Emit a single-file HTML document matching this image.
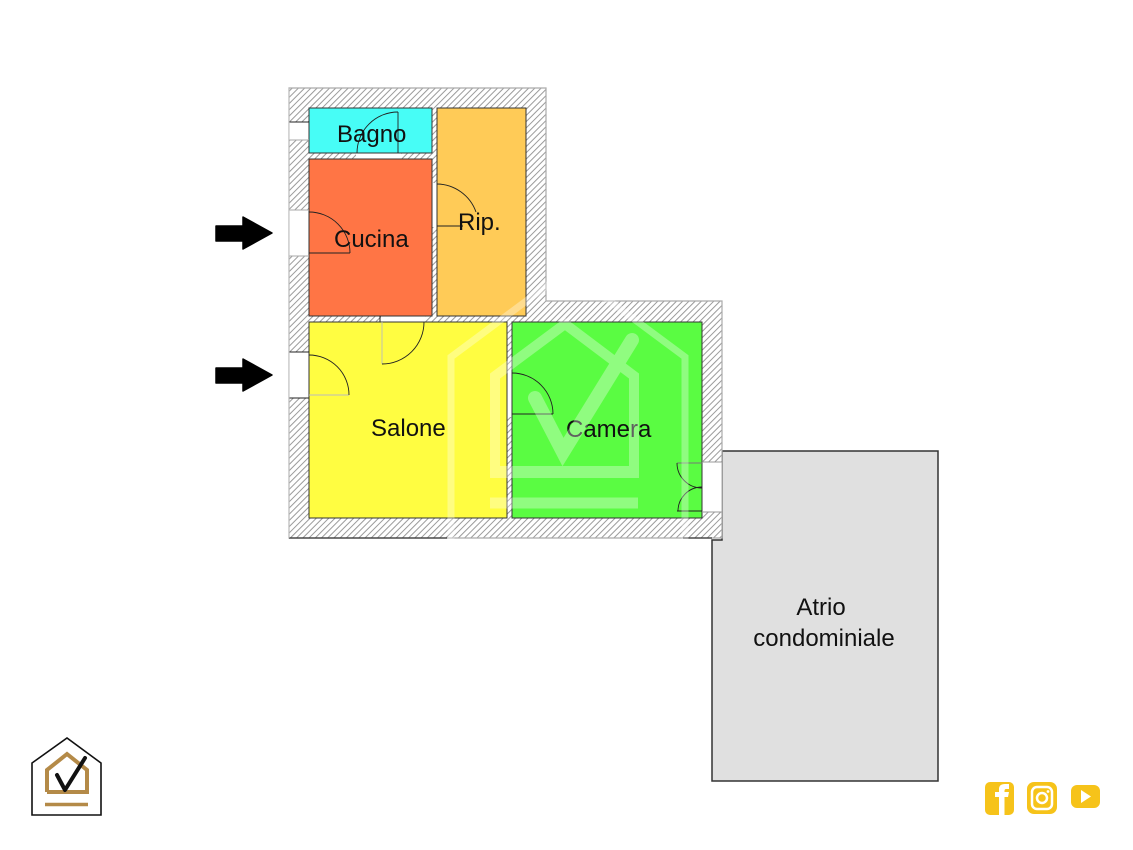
<!DOCTYPE html>
<html><head><meta charset="utf-8"><style>
html,body{margin:0;padding:0;background:#fff;}
svg{display:block;}
text{font-family:"Liberation Sans",Arial,sans-serif;font-size:24px;fill:#111;}
</style></head><body>
<svg width="1133" height="850" viewBox="0 0 1133 850" xmlns="http://www.w3.org/2000/svg">
<defs>
<pattern id="h" width="4.4" height="4.4" patternUnits="userSpaceOnUse" patternTransform="rotate(45)">
<rect width="4.4" height="4.4" fill="#fff"/>
<line x1="0.5" y1="0" x2="0.5" y2="4.4" stroke="#9a9a9a" stroke-width="1"/>
</pattern>
</defs>
<rect width="1133" height="850" fill="#fff"/>

<!-- Atrio -->
<polygon points="722,451 938,451 938,781 712,781 712,540 722,540" fill="#e0e0e0" stroke="#333" stroke-width="1.5"/>

<!-- Walls -->
<polygon points="289,88 546,88 546,301 722,301 722,538 289,538" fill="url(#h)" stroke="#aaa" stroke-width="1.2"/>
<line x1="289" y1="538" x2="447" y2="538" stroke="#333" stroke-width="1.2"/>
<line x1="683" y1="538" x2="712" y2="538" stroke="#333" stroke-width="1.2"/>

<!-- Rooms -->
<rect x="309" y="108" width="123" height="45" fill="#47fdf6" stroke="#333" stroke-width="1"/>
<rect x="309" y="159" width="123" height="157" fill="#ff7545" stroke="#333" stroke-width="1"/>
<rect x="437" y="108" width="89" height="208" fill="#ffcb57" stroke="#333" stroke-width="1"/>
<rect x="309" y="322" width="198" height="196" fill="#fffd41" stroke="#333" stroke-width="1"/>
<rect x="512" y="322" width="190" height="196" fill="#5afc42" stroke="#333" stroke-width="1"/>

<!-- Openings -->
<g fill="#fff">
<rect x="289.5" y="122" width="19" height="18"/>
<rect x="289.5" y="210" width="19" height="46"/>
<rect x="289.5" y="352" width="19" height="46"/>
<rect x="356" y="153.5" width="45" height="5"/>
<rect x="432.5" y="183" width="4" height="44"/>
<rect x="381" y="316.5" width="44" height="5"/>
<rect x="507.5" y="371" width="4" height="46"/>
<rect x="702.5" y="462" width="19" height="50"/>
</g>
<g stroke="#222" stroke-width="1" fill="none">
<line x1="289" y1="122" x2="309" y2="122"/>
<line x1="289" y1="140" x2="309" y2="140" stroke="#aaa"/>
<line x1="289" y1="210" x2="309" y2="210" stroke="#aaa"/>
<line x1="289" y1="256" x2="309" y2="256" stroke="#aaa"/>
<line x1="289" y1="352" x2="309" y2="352"/>
<line x1="289" y1="398" x2="309" y2="398"/>
<line x1="380" y1="316" x2="380" y2="322"/>
<line x1="702" y1="462" x2="722" y2="462" stroke="#999"/>
<line x1="702" y1="512" x2="722" y2="512" stroke="#999"/>
<line x1="289" y1="88" x2="289" y2="538" stroke="#bbb"/>
</g>

<!-- Doors -->
<g stroke="#222" stroke-width="0.9" fill="none">
<line x1="309" y1="253" x2="350" y2="253"/>
<path d="M309,212 A41,41 0 0 1 350,253"/>
<line x1="309" y1="395" x2="349" y2="395" stroke="#bbb"/>
<path d="M309,355 A40,40 0 0 1 349,395"/>
<line x1="398" y1="112" x2="398" y2="153"/>
<path d="M398,112 A41,41 0 0 0 357,153"/>
<line x1="437" y1="226" x2="463" y2="226"/>
<path d="M437,184 A42,42 0 0 1 476,212"/>
<line x1="382" y1="322" x2="382" y2="364" stroke="#bbb"/>
<path d="M382,364 A42,42 0 0 0 424,322"/>
<line x1="512" y1="414" x2="553" y2="414"/>
<path d="M512,373 A41,41 0 0 1 553,414"/>
<line x1="677" y1="463" x2="702" y2="463" stroke="#777"/>
<line x1="677" y1="511" x2="702" y2="511"/>
<path d="M677,463 A25,25 0 0 0 702,488"/>
<path d="M702,487 A24,24 0 0 0 678,511"/>
</g>

<!-- Labels -->
<text x="337" y="142">Bagno</text>
<text x="334" y="247">Cucina</text>
<text x="458" y="230">Rip.</text>
<text x="371" y="436">Salone</text>
<text x="566" y="437">Camera</text>
<text x="821" y="615" text-anchor="middle">Atrio</text>
<text x="824" y="646" text-anchor="middle">condominiale</text>

<!-- Watermark -->
<g stroke="#fff" fill="none" opacity="0.33" stroke-linejoin="miter">
<polyline points="451,560 451,357 568,270 685,357 685,560" stroke-width="7"/>
<polyline points="495,478 495,376 565,324 634,376 634,478" stroke-width="10"/>
<line x1="490" y1="472" x2="639" y2="472" stroke-width="12"/>
<line x1="490" y1="503" x2="638" y2="503" stroke-width="11"/>
<polyline points="535,398 563,452 632,340" stroke-width="14" stroke-linecap="round"/>
</g>

<!-- Arrows -->
<g fill="#000">
<path d="M216,226 L243,226 L243,217 L272,233 L243,249 L243,241 L216,241 Z" stroke="#000" stroke-width="1.5" stroke-linejoin="round"/>
<path d="M216,368 L243,368 L243,359 L272,375 L243,391 L243,383 L216,383 Z" stroke="#000" stroke-width="1.5" stroke-linejoin="round"/>
</g>

<!-- Logo -->
<g>
<polygon points="32,815 32,763 67,738 101,763 101,815" fill="#fff" stroke="#111" stroke-width="1.6"/>
<polyline points="47,792 47,770 67,754 87,770 87,792 47,792" fill="none" stroke="#b48a48" stroke-width="4"/>
<line x1="45" y1="804.5" x2="88" y2="804.5" stroke="#b48a48" stroke-width="3.5"/>
<polyline points="57,775 65,790 85,758" fill="none" stroke="#111" stroke-width="4" stroke-linecap="round" stroke-linejoin="round"/>
</g>

<!-- Social icons -->
<g fill="#f6c31a">
<rect x="985" y="782" width="29" height="33" rx="5"/>
<rect x="1027" y="782" width="30" height="32" rx="7"/>
<rect x="1071" y="785" width="29" height="23" rx="6"/>
</g>
<g fill="#fff">
<path d="M999,815 L999,797 L995,797 L995,792 L999,792 L999,789 Q999,784 1005,784 L1009,784 L1009,789 L1006,789 Q1004.5,789 1004.5,791 L1004.5,792 L1009,792 L1008,797 L1004.5,797 L1004.5,815 Z"/>
<polygon points="1081,790 1081,803 1091,796.5"/>
</g>
<g fill="none" stroke="#fff" stroke-width="2.5">
<rect x="1032" y="787" width="20" height="22" rx="5"/>
<circle cx="1042" cy="798" r="5"/>
</g>
<circle cx="1048" cy="791.5" r="1.4" fill="#fff"/>
</svg>
</body></html>
